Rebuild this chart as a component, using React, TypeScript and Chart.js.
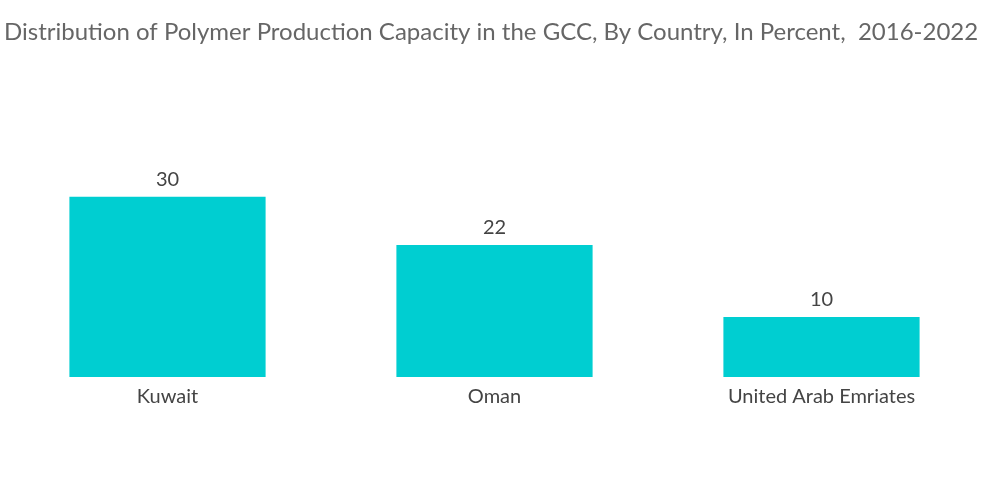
import React, { useEffect, useRef } from "react";
import { Chart, registerables } from "chart.js";

Chart.register(...registerables);

const categories = ["Kuwait", "Oman", "United Arab Emriates"];
const values = [30, 22, 10];
const titleText = "Distribution of Polymer Production Capacity in the GCC, By Country, In Percent,  2016-2022";

const FONT = "Lato, 'Open Sans', sans-serif";

const valueLabels = {
  id: "valueLabels",
  afterDatasetsDraw(chart: any) {
    const ctx = chart.ctx;
    const meta = chart.getDatasetMeta(0);
    ctx.save();
    ctx.font = `20px ${FONT}`;
    ctx.fillStyle = "#444444";
    ctx.textAlign = "center";
    ctx.textBaseline = "bottom";
    meta.data.forEach((bar: any, i: number) => {
      ctx.fillText(String(values[i]), bar.x, bar.y - 7);
    });
    ctx.restore();
  },
};

export default function App() {
  const ref = useRef<HTMLCanvasElement>(null);
  useEffect(() => {
    if (!ref.current) return;
    const chart = new Chart(ref.current, {
      type: "bar",
      data: {
        labels: categories,
        datasets: [
          {
            data: values,
            backgroundColor: "#00CED1",
            barPercentage: 0.6,
            categoryPercentage: 1,
          },
        ],
      },
      options: {
        animation: false,
        responsive: false,
        maintainAspectRatio: false,
        layout: { padding: { left: 4, right: 15, top: 0, bottom: 95 } },
        plugins: {
          legend: { display: false },
          tooltip: { enabled: false },
          title: {
            display: true,
            text: titleText,
            align: "start",
            color: "#666666",
            font: { family: FONT, size: 24, weight: "normal" },
            padding: { top: 18, bottom: 90 },
          },
        },
        scales: {
          x: {
            grid: { display: false },
            border: { display: false },
            ticks: {
              color: "#444444",
              font: { family: FONT, size: 20 },
              padding: 0,
            },
          },
          y: {
            display: false,
            min: 0,
            max: 40,
          },
        },
      },
      plugins: [valueLabels],
    });
    return () => chart.destroy();
  }, []);
  return (
    <div style={{ position: "fixed", left: 0, top: 0, width: 1000, height: 504, background: "#fff" }}>
      <canvas ref={ref} width={1000} height={504} style={{ width: 1000, height: 504 }} />
    </div>
  );
}
